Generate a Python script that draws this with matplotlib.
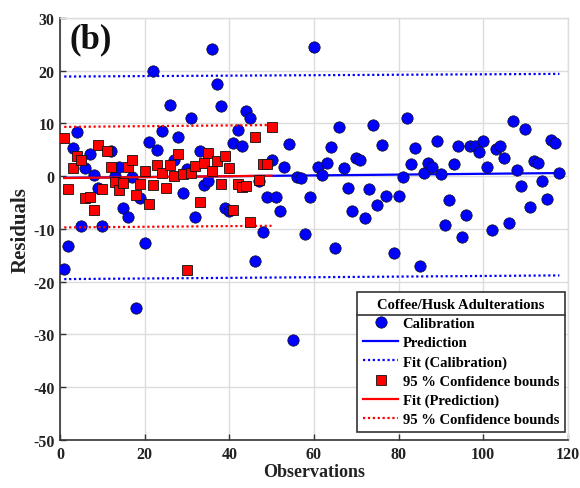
import matplotlib
matplotlib.use("Agg")
import matplotlib.pyplot as plt
import numpy as np
from matplotlib.lines import Line2D

plt.rcParams["font.family"] = ["Liberation Serif", "DejaVu Serif"]
plt.rcParams["font.weight"] = "bold"
plt.rcParams["axes.unicode_minus"] = False

# Calibration residuals (observation index, residual)
cal_obs = [1, 2, 3, 4, 5, 6, 7, 8, 9, 10, 12, 13, 14, 15, 16, 17, 18, 19, 20,
           21, 22, 23, 24, 26, 27, 28, 29, 30, 31, 32, 33, 34, 35, 36, 37, 38,
           39, 40, 41, 42, 43, 44, 45, 46, 47, 48, 49, 50, 51, 52, 53, 54, 55,
           56, 57, 58, 59, 60, 61, 62, 63, 64, 65, 66, 67, 68, 69, 70, 71, 72,
           73, 74, 75, 76, 77, 79, 80, 81, 82, 83, 84, 85, 86, 87, 88, 89, 90,
           91, 92, 93, 94, 95, 96, 97, 98, 99, 100, 101, 102, 103, 104, 105,
           106, 107, 108, 109, 110, 111, 112, 113, 114, 115, 116, 117, 118]
cal_res = [-17.6, -13.3, 5.4, 8.4, -9.4, 1.5, 4.2, 0.2, -2.2, -9.4, 4.7, 0.0,
           1.8, -6.1, -7.7, -0.1, -25.0, -4.2, -12.7, 6.5, 19.9, 5.0, 8.6,
           13.5, 3.0, 7.5, -3.2, 1.4, 11.1, -7.8, 4.7, -1.6, -0.9, 24.1, 17.4,
           13.3, -6.1, -6.5, 6.3, 8.7, 5.8, 12.3, 11.1, -16.1, -0.9, -10.5,
           -3.9, 3.0, -4.0, -6.6, 1.8, 6.1, -31.1, -0.2, -0.3, -11.0, -4.0,
           24.5, 1.8, 0.2, 2.5, 5.6, -13.6, 9.4, 1.6, -2.3, -6.5, 3.4, 3.0,
           -8.0, -2.5, 9.8, -5.4, 5.9, -3.7, -14.6, -3.8, -0.1, 11.0, 2.4, 5.3,
           -17.0, 0.7, 2.5, 1.8, 6.7, 0.5, -9.2, -4.5, 2.4, 5.8, -11.5, -7.3,
           5.8, 5.8, 4.5, 6.6, 1.8, -10.2, 5.1, 5.8, 3.4, -8.9, 10.5, 1.2,
           -1.8, 9.0, -5.9, 2.8, 2.5, -0.9, -4.4, 6.9, 6.3, 0.6]

# Prediction residuals
pred_obs = list(range(1, 51))
pred_res = [7.2, -2.5, 1.5, 3.9, 3.1, -4.2, -4.0, -6.4, 6.0, -2.5, 4.7, 1.8,
            -1.0, -2.6, -1.2, 1.7, 3.1, -3.6, -1.4, 1.0, -5.2, -1.6, 2.1, 0.7,
            -2.2, 2.1, 0.0, 4.3, 0.4, -17.8, 0.7, 1.9, -4.8, 2.6, 4.4, 1.0,
            2.8, -1.5, 3.8, 1.5, -6.4, -1.5, -2.1, -1.9, -8.6, 7.5, -0.7, 2.3,
            2.3, 9.3]

# Fit lines and 95 % bounds (start / end values)
cal_span = [1, 118]
cal_fit = [-0.3, 0.6]
cal_upper = [18.9, 19.4]
cal_lower = [-19.5, -18.8]

pred_span = [1, 50]
pred_fit = [-0.35, 0.1]
pred_upper = [9.35, 9.7]
pred_lower = [-9.7, -9.4]

x_ticks = [0, 20, 40, 60, 80, 100, 120]
y_ticks = [-50, -40, -30, -20, -10, 0, 10, 20, 30]

fig = plt.figure(figsize=(5.8, 4.89), dpi=100)
ax = fig.add_axes([0.1034, 0.0982, 0.8756, 0.8630])

blue = "#0000ff"
red = "#ff0000"
dots = (0, (1, 1.2))

ax.plot(cal_span, cal_fit, color=blue, lw=1.6, zorder=3, label="Prediction")
ax.plot(cal_span, cal_upper, color=blue, lw=1.6, ls=dots, zorder=3,
        label="Fit (Calibration)")
ax.plot(cal_span, cal_lower, color=blue, lw=1.6, ls=dots, zorder=3)

ax.plot(cal_obs, cal_res, ls="none", marker="o", ms=8.2, mfc=blue,
        mec="#111111", mew=0.5, zorder=4, label="Calibration")

ax.plot(pred_span, pred_fit, color=red, lw=1.6, zorder=5,
        label="Fit (Prediction)")
ax.plot(pred_span, pred_upper, color=red, lw=1.6, ls=dots, zorder=5,
        label="95 % Confidence bounds")
ax.plot(pred_span, pred_lower, color=red, lw=1.6, ls=dots, zorder=5)

ax.plot(pred_obs, pred_res, ls="none", marker="s", ms=6.6, mfc=red,
        mec="#111111", mew=0.6, zorder=6, label="95 % Confidence bounds")

ax.set_xlim(0, 120)
ax.set_ylim(-50, 30)
ax.set_xticks(x_ticks)
ax.set_yticks(y_ticks)
ax.grid(True, color="#dcdcdc", lw=1.0)
ax.set_axisbelow(True)
ax.tick_params(direction="in", length=4, width=1, colors="#333333",
               labelsize=11.5, labelcolor="#222222", pad=4)
for lbl in ax.get_xticklabels() + ax.get_yticklabels():
    lbl.set_fontweight("bold")

for side in ("left", "bottom"):
    ax.spines[side].set_color("#333333")
    ax.spines[side].set_linewidth(1.2)
for side in ("top", "right"):
    ax.spines[side].set_color("#dcdcdc")
    ax.spines[side].set_linewidth(1.0)

ax.set_xlabel("Observations", fontsize=13, fontweight="bold",
              color="#222222", labelpad=1)
ax.set_ylabel("Residuals", fontsize=15, fontweight="bold",
              color="#222222", labelpad=2)

ax.text(0.018, 0.99, "(b)", transform=ax.transAxes, fontsize=25,
        fontweight="bold", va="top", ha="left", color="#111111", zorder=7)

# Legend in the order Calibration, Prediction, Fit (Calibration), ...
handles, labels = ax.get_legend_handles_labels()
h_map = {}
for h, l in zip(handles, labels):
    h_map.setdefault(l, []).append(h)
leg_handles = [h_map["Calibration"][0], h_map["Prediction"][0],
               h_map["Fit (Calibration)"][0],
               h_map["95 % Confidence bounds"][1],
               h_map["Fit (Prediction)"][0],
               h_map["95 % Confidence bounds"][0]]
leg_labels = ["Calibration", "Prediction", "Fit (Calibration)",
              "95 % Confidence bounds", "Fit (Prediction)",
              "95 % Confidence bounds"]
leg = ax.legend(leg_handles, leg_labels, title="Coffee/Husk Adulterations",
                loc="lower right", bbox_to_anchor=(0.994, 0.019),
                borderaxespad=0, fancybox=False, framealpha=1,
                edgecolor="#333333", title_fontsize=10.5,
                prop={"weight": "bold", "size": 10.5},
                handlelength=2.4, handletextpad=0.3, labelspacing=0.4,
                borderpad=0.4)
leg.get_title().set_fontweight("bold")
leg.get_frame().set_linewidth(1.2)
leg.set_zorder(10)

fig.canvas.draw()
frame_bb = leg.get_frame().get_window_extent()
title_bb = leg.get_title().get_window_extent()
sep_y = title_bb.y0 - 4
inv = fig.transFigure.inverted()
(x0, y0) = inv.transform((frame_bb.x0, sep_y))
(x1, _) = inv.transform((frame_bb.x1, sep_y))
fig.add_artist(Line2D([x0, x1], [y0, y0], transform=fig.transFigure,
                      color="#333333", lw=1.2, zorder=11))

fig.savefig("out.png", dpi=100)
